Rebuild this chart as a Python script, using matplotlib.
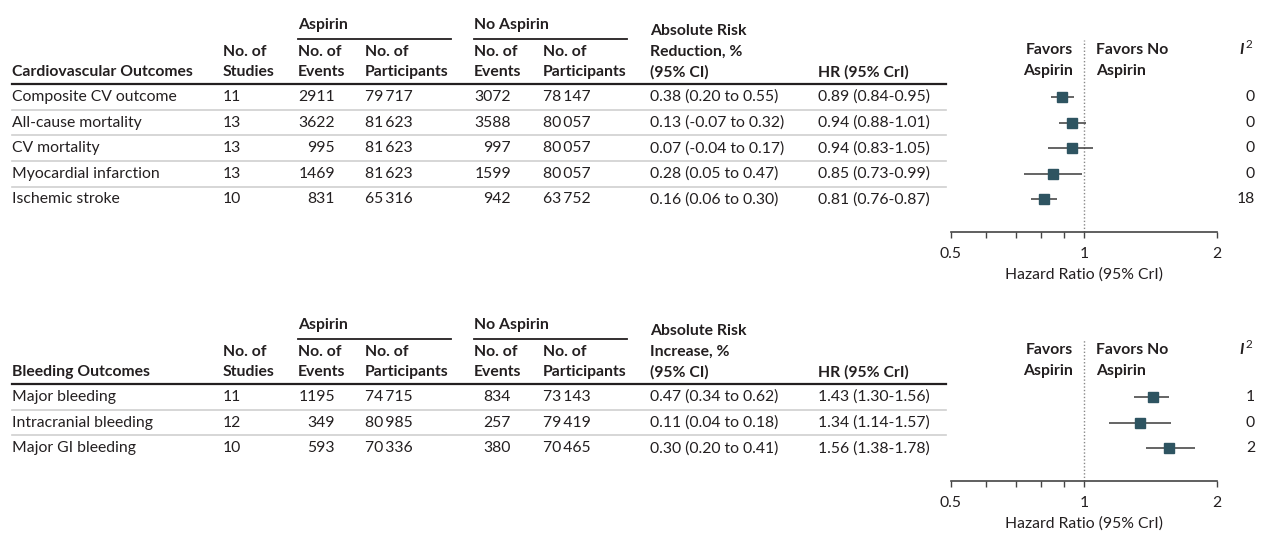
import matplotlib
matplotlib.use("Agg")
import matplotlib.pyplot as plt
from matplotlib.ticker import FixedLocator, NullFormatter, FixedFormatter

plt.rcParams['font.family'] = ['Lato', 'DejaVu Sans']

# ---------------- data ----------------
cv_names = ["Composite CV outcome", "All-cause mortality", "CV mortality",
            "Myocardial infarction", "Ischemic stroke"]
cv_studies = [11, 13, 13, 13, 10]
cv_ev_asp = [2911, 3622, 995, 1469, 831]
cv_n_asp = [79717, 81623, 81623, 81623, 65316]
cv_ev_no = [3072, 3588, 997, 1599, 942]
cv_n_no = [78147, 80057, 80057, 80057, 63752]
cv_arr = [0.38, 0.13, 0.07, 0.28, 0.16]
cv_arr_lo = [0.20, -0.07, -0.04, 0.05, 0.06]
cv_arr_hi = [0.55, 0.32, 0.17, 0.47, 0.30]
cv_hr = [0.89, 0.94, 0.94, 0.85, 0.81]
cv_hr_lo = [0.84, 0.88, 0.83, 0.73, 0.76]
cv_hr_hi = [0.95, 1.01, 1.05, 0.99, 0.87]
cv_i2 = [0, 0, 0, 0, 18]

bl_names = ["Major bleeding", "Intracranial bleeding", "Major GI bleeding"]
bl_studies = [11, 12, 10]
bl_ev_asp = [1195, 349, 593]
bl_n_asp = [74715, 80985, 70336]
bl_ev_no = [834, 257, 380]
bl_n_no = [73143, 79419, 70465]
bl_arr = [0.47, 0.11, 0.30]
bl_arr_lo = [0.34, 0.04, 0.20]
bl_arr_hi = [0.62, 0.18, 0.41]
bl_hr = [1.43, 1.34, 1.56]
bl_hr_lo = [1.30, 1.14, 1.38]
bl_hr_hi = [1.56, 1.57, 1.78]
bl_i2 = [1, 0, 2]

x_ticks_major = [0.5, 1, 2]
x_ticks_minor = [0.6, 0.7, 0.8, 0.9]
x_tick_labels = ["0.5", "1", "2"]

# ---------------- styling ----------------
W, H = 1262, 533
TXT = "#231f20"
MARK = "#2e5461"
FS = 11.3
THIN = "\u2009"

fig = plt.figure(figsize=(W / 100, H / 100), dpi=100)
ax = fig.add_axes([0, 0, 1, 1])
ax.set_xlim(0, W)
ax.set_ylim(H, 0)
ax.axis("off")


def fmt_n(n):
    if n >= 10000:
        s = f"{n:,}"
        return s.replace(",", THIN)
    return str(n)


def t(x, y, s, ha="left", bold=False, **kw):
    ax.text(x, y, s, ha=ha, va="center", fontsize=FS, color=TXT,
            fontweight="bold" if bold else "normal", **kw)


def panel(off, title, arr_word, names, studies, ev_a, n_a, ev_n, n_n,
          arr, arr_lo, arr_hi, hr, hr_lo, hr_hi, i2):
    # headers
    t(298, off + 25, "Aspirin", bold=True)
    ax.plot([298, 451], [off + 38.5, off + 38.5], color=TXT, lw=1.3)
    t(474, off + 25, "No Aspirin", bold=True)
    ax.plot([474, 627], [off + 38.5, off + 38.5], color=TXT, lw=1.3)
    t(650, off + 31, "Absolute Risk", bold=True)
    t(650, off + 52, arr_word + ", %", bold=True)
    t(650, off + 72, "(95% CI)", bold=True)
    t(818, off + 72, "HR (95% CrI)", bold=True)
    t(12, off + 72, title, bold=True)
    for x, l2 in [(223, "Studies"), (298, "Events"), (365, "Participants"),
                  (474, "Events"), (543, "Participants")]:
        t(x, off + 52, "No. of", bold=True)
        t(x, off + 72, l2, bold=True)
    ax.plot([12, 946], [off + 84, off + 84], color=TXT, lw=1.6)

    # rows
    n = len(names)
    step = 25.6
    ys = [off + 97 + i * step for i in range(n)]
    for i, y in enumerate(ys):
        t(12, y, names[i])
        t(223, y, str(studies[i]))
        t(335, y, fmt_n(ev_a[i]), ha="right")
        t(365, y, fmt_n(n_a[i]))
        t(511, y, fmt_n(ev_n[i]), ha="right")
        t(543, y, fmt_n(n_n[i]))
        t(650, y, f"{arr[i]:.2f} ({arr_lo[i]:.2f} to {arr_hi[i]:.2f})")
        t(818, y, f"{hr[i]:.2f} ({hr_lo[i]:.2f}-{hr_hi[i]:.2f})")
        t(1255, y, str(i2[i]), ha="right")
        if i < n - 1:
            ax.plot([12, 946], [y + 12.8, y + 12.8], color="#cfcfcf", lw=1.2)

    # favors + I2
    t(1073, off + 50, "Favors", ha="right", bold=True)
    t(1073, off + 71, "Aspirin", ha="right", bold=True)
    t(1096, off + 50, "Favors No", bold=True)
    t(1096, off + 71, "Aspirin", bold=True)
    ax.text(1242, off + 50, "I", ha="center", va="center", fontsize=FS,
            color=TXT, fontweight="bold", fontstyle="italic")
    ax.text(1246, off + 45, "2", ha="left", va="center", fontsize=FS * 0.75,
            color=TXT)

    # forest axes
    top_px, bot_px = off + 40, ys[-1] + 33
    fx = fig.add_axes([951 / W, (H - bot_px) / H, 266 / W, (bot_px - top_px) / H])
    fx.set_xscale("log")
    fx.set_xlim(0.5, 2)
    fx.set_ylim((bot_px - ys[0]) / step, -(ys[0] - top_px) / step)
    fx.patch.set_alpha(0)
    for s in ["top", "right", "left"]:
        fx.spines[s].set_visible(False)
    fx.spines["bottom"].set_color("#444444")
    fx.spines["bottom"].set_linewidth(1.2)
    fx.xaxis.set_major_locator(FixedLocator(x_ticks_major))
    fx.xaxis.set_major_formatter(FixedFormatter(x_tick_labels))
    fx.xaxis.set_minor_locator(FixedLocator(x_ticks_minor))
    fx.xaxis.set_minor_formatter(NullFormatter())
    fx.tick_params(axis="x", which="both", direction="out", length=4.5,
                   width=1.0, color="#444444", labelsize=FS, labelcolor=TXT,
                   pad=6)
    fx.set_yticks([])
    fx.set_xlabel("Hazard Ratio (95% CrI)", fontsize=FS, color=TXT, labelpad=4.5)
    fx.axvline(1, color="#888888", lw=1.0, ls=(0, (1, 1.5)))
    rows = list(range(n))
    fx.hlines(rows, hr_lo, hr_hi, color="#3a3a3a", lw=1.1)
    fx.plot(hr, rows, ls="none", marker="s", ms=7.5, color=MARK, mec=MARK)


panel(0, "Cardiovascular Outcomes", "Reduction", cv_names, cv_studies,
      cv_ev_asp, cv_n_asp, cv_ev_no, cv_n_no, cv_arr, cv_arr_lo, cv_arr_hi,
      cv_hr, cv_hr_lo, cv_hr_hi, cv_i2)
panel(300, "Bleeding Outcomes", "Increase", bl_names, bl_studies,
      bl_ev_asp, bl_n_asp, bl_ev_no, bl_n_no, bl_arr, bl_arr_lo, bl_arr_hi,
      bl_hr, bl_hr_lo, bl_hr_hi, bl_i2)

fig.savefig("out.png", dpi=100)
